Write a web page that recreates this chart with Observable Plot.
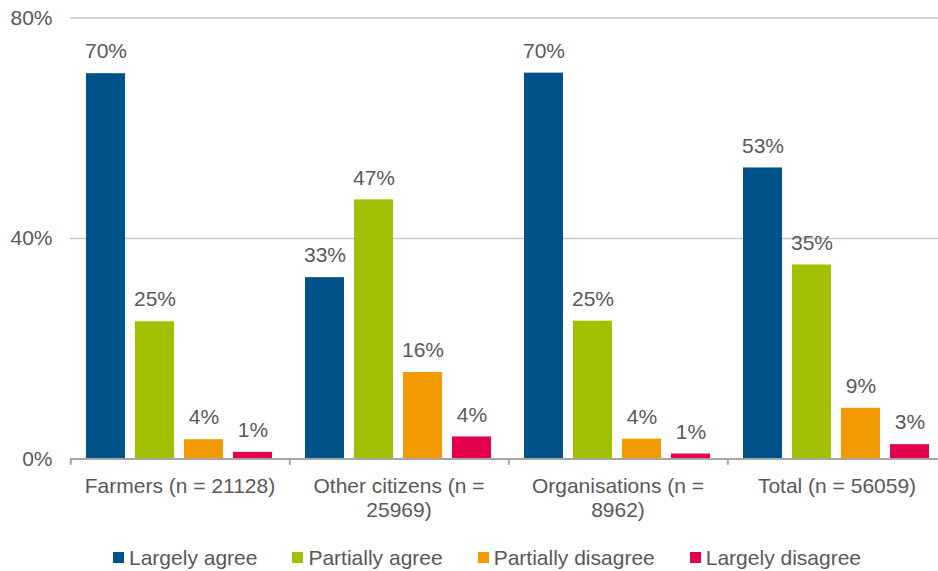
<!DOCTYPE html>
<html>
<head>
<meta charset="utf-8">
<script src="https://cdn.jsdelivr.net/npm/d3@7"></script>
<script src="https://cdn.jsdelivr.net/npm/@observablehq/plot@0.6"></script>
<style>
  html, body { margin: 0; padding: 0; background: white; overflow: hidden; }
  #wrap { position: relative; width: 938px; height: 571px; font-family: "Liberation Sans", Arial, sans-serif; color: #595959; }
  #legend { position: absolute; left: 113px; top: 545px; display: flex; align-items: center; font-size: 21px; line-height: 25px; white-space: nowrap; }
  .item { display: flex; align-items: center; margin-right: 35px; }
  .sw { width: 11px; height: 11px; margin-right: 5px; }
</style>
</head>
<body>
<div id="wrap"><div id="chart"></div><div id="legend"></div></div>
<script>
const categories = ["Farmers (n = 21128)", "Other citizens (n = 25969)", "Organisations (n = 8962)", "Total (n = 56059)"];
const tickLabels = ["Farmers (n = 21128)", "Other citizens (n =\n25969)", "Organisations (n =\n8962)", "Total (n = 56059)"];
const series = ["Largely agree", "Partially agree", "Partially disagree", "Largely disagree"];
const colors = ["#02528a", "#a2bf00", "#f39a00", "#e3004f"];
const largelyAgree = [69.9, 32.9, 70.0, 52.8];
const partiallyAgree = [24.9, 47.0, 25.0, 35.2];
const partiallyDisagree = [3.5, 15.7, 3.6, 9.2];
const largelyDisagree = [1.2, 4.0, 0.9, 2.6];
const valueLabels = [
  ["70%", "33%", "70%", "53%"],
  ["25%", "47%", "25%", "35%"],
  ["4%", "16%", "4%", "9%"],
  ["1%", "4%", "1%", "3%"]
];
const yTicks = [0, 40, 80];

const seriesValues = [largelyAgree, partiallyAgree, partiallyDisagree, largelyDisagree];
const data = [];
categories.forEach((c, ci) => series.forEach((s, si) => data.push({cat: c, series: s, value: seriesValues[si][ci], label: valueLabels[si][ci]})));

const width = 938, height = 530, marginLeft = 70, marginRight = -8, marginTop = 17.5, marginBottom = 71.5;
const paddingInner = 0.2, paddingOuter = 0.31;
const groupW = (width - marginLeft - marginRight) / categories.length;
const step = groupW / (series.length - paddingInner + 2 * paddingOuter);
const firstCenterOffset = paddingOuter * step + (1 - paddingInner) * step / 2;

const textColor = "#595959";
const chart = Plot.plot({
  width, height, marginLeft, marginRight, marginTop, marginBottom,
  style: {fontFamily: "Liberation Sans, Arial, sans-serif", fontSize: "21px", color: textColor, background: "white", overflow: "hidden"},
  fx: {domain: categories, padding: 0, axis: null},
  x: {domain: series, paddingInner, paddingOuter, axis: null},
  y: {domain: [0, 80], axis: null},
  color: {domain: series, range: colors},
  marks: [
    Plot.ruleY(yTicks.filter(d => d > 0), {stroke: "#c6c6c6", strokeWidth: 1.5}),
    Plot.barY(data, {fx: "cat", x: "series", y: "value", fill: "series"}),
    Plot.text(data, {fx: "cat", x: "series", y: "value", text: "label", dy: -22, fill: textColor, fontSize: 21}),
    Plot.ruleY([0], {stroke: "#a6a6a6", strokeWidth: 2}),
    Plot.ruleX(categories, {fx: d => d, x: () => series[0], y1: 0, y2: -1.15, dx: -firstCenterOffset, stroke: "#a6a6a6", strokeWidth: 2}),
    Plot.axisY({ticks: yTicks, tickFormat: d => d + "%", tickSize: 0, tickPadding: 18, label: null, fontSize: 21, fill: textColor}),
    Plot.axisFx({anchor: "bottom", tickFormat: (d) => tickLabels[categories.indexOf(d)], tickSize: 0, tickPadding: 18, label: null, fontSize: 21, fill: textColor, lineHeight: 1.1})
  ]
});
document.getElementById("chart").appendChild(chart);

const legend = document.getElementById("legend");
series.forEach((s, i) => {
  const item = document.createElement("div");
  item.className = "item";
  const sw = document.createElement("span");
  sw.className = "sw";
  sw.style.background = colors[i];
  const t = document.createElement("span");
  t.textContent = s;
  item.appendChild(sw); item.appendChild(t);
  legend.appendChild(item);
});
</script>
</body>
</html>
